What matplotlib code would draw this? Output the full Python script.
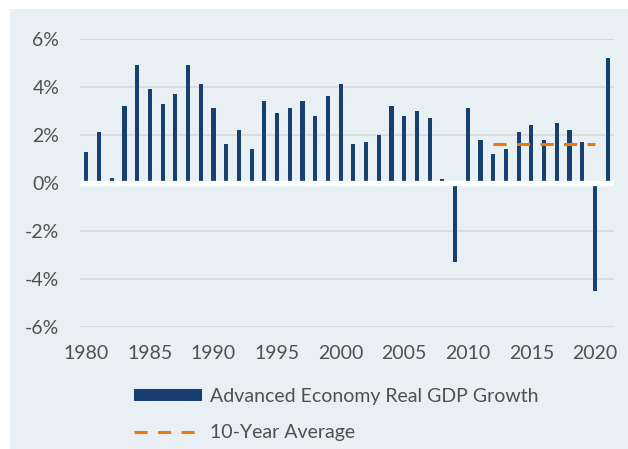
import numpy as np
import matplotlib.pyplot as plt
from matplotlib.patches import Rectangle, Patch
from matplotlib.lines import Line2D
from matplotlib.ticker import FuncFormatter

# ==== DATA ====
years = list(range(1980, 2022))
gdp_growth = [1.3, 2.1, 0.2, 3.2, 4.9, 3.9, 3.3, 3.7, 4.9, 4.1,
              3.1, 1.6, 2.2, 1.4, 3.4, 2.9, 3.1, 3.4, 2.8, 3.6,
              4.1, 1.6, 1.7, 2.0, 3.2, 2.8, 3.0, 2.7, 0.15, -3.3,
              3.1, 1.8, 1.2, 1.4, 2.1, 2.4, 1.8, 2.5, 2.2, 1.7,
              -4.5, 5.2]
avg_years = [2012, 2020]
avg_value = [1.6, 1.6]

bar_label = "Advanced Economy Real GDP Growth"
avg_label = "10-Year Average"

# ==== STYLE ====
BG = "#E8F0F3"
NAVY = "#173F6F"
ORANGE = "#EA7A10"
GRID = "#D8DADB"
TEXT = "#505050"
plt.rcParams["font.family"] = ["Lato", "DejaVu Sans"]
FS = 14

W, H = 628, 449
fig = plt.figure(figsize=(W / 100, H / 100), dpi=100, facecolor="white")
fig.patches.append(Rectangle((10 / W, 0), 1, 1 - 9 / H, transform=fig.transFigure,
                             facecolor=BG, edgecolor="none", zorder=-10))

ax = fig.add_axes([80 / W, 1 - 326.7 / H, 534 / W, 288 / H])
ax.set_facecolor("none")

ax.bar(years, gdp_growth, width=0.32, color=NAVY, zorder=2)
ax.axhline(0, color="white", lw=3.8, zorder=3)
ax.plot(avg_years, avg_value, color=ORANGE, lw=2.2,
        linestyle=(0, (4.3, 3.4)), zorder=4)

ax.set_xlim(1979.5, 2021.5)
ax.set_ylim(-6, 6)
ax.set_yticks(np.arange(-6, 7, 2))
ax.set_xticks(np.arange(1980, 2021, 5))
ax.yaxis.set_major_formatter(FuncFormatter(lambda v, p: f"{v:.0f}%"))
ax.yaxis.grid(True, color=GRID, lw=1.3)
ax.set_axisbelow(True)
for s in ax.spines.values():
    s.set_visible(False)
ax.tick_params(length=0, labelsize=FS, labelcolor=TEXT)
ax.tick_params(axis="y", pad=15)
ax.tick_params(axis="x", pad=13)

handles = [Patch(facecolor=NAVY, edgecolor="none"),
           Line2D([], [], color=ORANGE, lw=2.2, linestyle=(0, (4.3, 3.4)))]
fig.legend(handles, [bar_label, avg_label], loc="upper left",
           bbox_to_anchor=(134 / W, 1 - 388 / H), frameon=False,
           fontsize=FS, labelcolor=TEXT, handlelength=3.5, handleheight=0.62,
           handletextpad=0.4, labelspacing=1.0, borderpad=0,
           borderaxespad=0)

fig.savefig("out.png", dpi=100, facecolor="white")
